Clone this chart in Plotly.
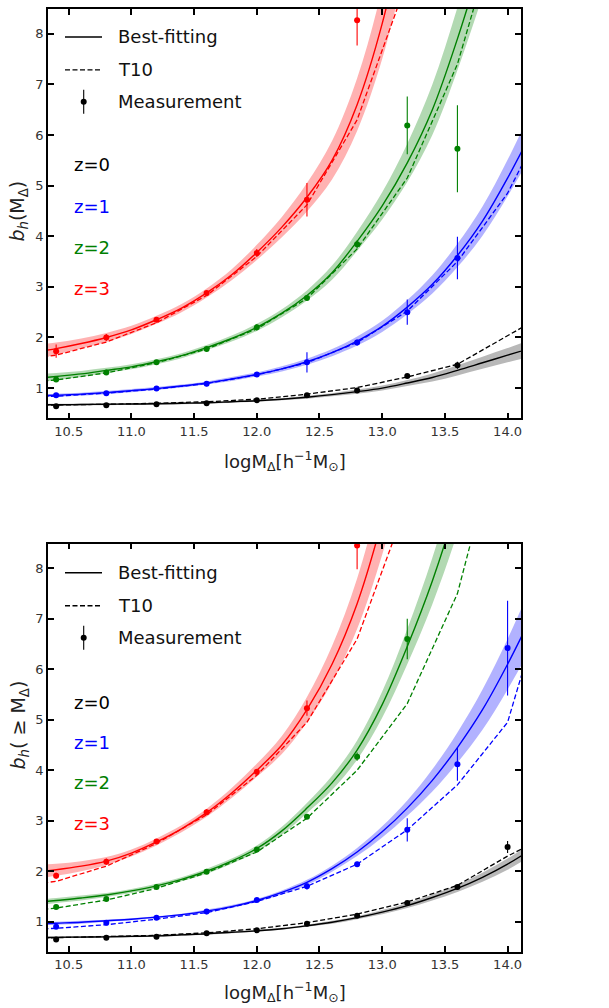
import plotly.graph_objects as go

# ---------------------------------------------------------------- data
# halo-mass bins of the measurements (log M)
X_BINS = [10.4, 10.8, 11.2, 11.6, 12.0, 12.4, 12.8, 13.2, 13.6, 14.0]
# mass grid of the best-fitting curves
X_FIT = [10.2, 10.4, 10.6, 10.8, 11.0, 11.2, 11.4, 11.6, 11.8, 12.0, 12.2,
         12.4, 12.6, 12.8, 13.0, 13.2, 13.4, 13.6, 13.8, 14.0, 14.2]
# mass grid of the T10 prediction
X_T10 = [10.0, 10.4, 10.8, 11.2, 11.6, 12.0, 12.4, 12.8, 13.2, 13.6, 14.0, 14.4]

X_TICKS = [10.5, 11.0, 11.5, 12.0, 12.5, 13.0, 13.5, 14.0]
X_TICK_TEXT = ["10.5", "11.0", "11.5", "12.0", "12.5", "13.0", "13.5", "14.0"]
Y_TICKS = [1, 2, 3, 4, 5, 6, 7, 8]

REDSHIFT_LABELS = ["z=0", "z=1", "z=2", "z=3"]
LINE_COLORS = ["#000000", "#0000ff", "#008000", "#ff0000"]
BAND_COLORS = ["rgba(0,0,0,0.28)", "rgba(0,0,255,0.30)",
               "rgba(0,128,0,0.30)", "rgba(255,0,0,0.30)"]

# ---- upper panel: b_h(M)
TOP_MEAS_Z0 = [0.64, 0.66, 0.68, 0.70, 0.76, 0.86, 0.95, 1.24, 1.45, None]
TOP_ERR_Z0 = [0.02, 0.02, 0.02, 0.02, 0.03, 0.03, 0.03, 0.04, 0.07, None]
TOP_MEAS_Z1 = [0.86, 0.90, 0.99, 1.085, 1.27, 1.51, 1.90, 2.50, 3.57, None]
TOP_ERR_Z1 = [0.03, 0.03, 0.03, 0.05, 0.05, 0.20, 0.06, 0.25, 0.42, None]
TOP_MEAS_Z2 = [1.17, 1.31, 1.51, 1.77, 2.20, 2.78, 3.84, 6.19, 5.73, None]
TOP_ERR_Z2 = [0.05, 0.05, 0.04, 0.05, 0.06, 0.05, 0.08, 0.57, 0.86, None]
TOP_MEAS_Z3 = [1.73, 2.00, 2.35, 2.88, 3.67, 4.72, 8.27, None, None, None]
TOP_ERR_Z3 = [0.13, 0.07, 0.05, 0.04, 0.08, 0.33, 0.50, None, None, None]

TOP_FIT_Z0 = [0.67, 0.67, 0.675, 0.68, 0.685, 0.69, 0.70, 0.71, 0.73, 0.75, 0.78,
              0.82, 0.87, 0.93, 1.00, 1.10, 1.21, 1.35, 1.50, 1.65, 1.80]
TOP_BAND_Z0 = [0.02, 0.02, 0.02, 0.02, 0.02, 0.02, 0.02, 0.02, 0.02, 0.02, 0.02,
               0.03, 0.03, 0.04, 0.05, 0.06, 0.08, 0.10, 0.12, 0.14, 0.17]
TOP_FIT_Z1 = [0.84, 0.86, 0.88, 0.91, 0.95, 0.99, 1.04, 1.10, 1.18, 1.27, 1.38,
              1.52, 1.70, 1.93, 2.22, 2.60, 3.05, 3.62, 4.30, 5.15, 6.10]
TOP_BAND_Z1 = [0.03, 0.03, 0.03, 0.03, 0.03, 0.03, 0.03, 0.03, 0.04, 0.04, 0.05,
               0.06, 0.07, 0.09, 0.11, 0.14, 0.18, 0.23, 0.29, 0.36, 0.45]
TOP_FIT_Z2 = [1.18, 1.23, 1.28, 1.35, 1.42, 1.52, 1.64, 1.80, 1.98, 2.20, 2.48,
              2.83, 3.28, 3.90, 4.60, 5.45, 6.50, 7.90, 9.50]
TOP_BAND_Z2 = [0.08, 0.07, 0.06, 0.05, 0.05, 0.05, 0.05, 0.05, 0.06, 0.07, 0.08,
               0.10, 0.14, 0.19, 0.27, 0.38, 0.50, 0.62, 0.76]
TOP_FIT_Z3 = [1.70, 1.78, 1.88, 2.00, 2.15, 2.35, 2.58, 2.88, 3.24, 3.68, 4.18,
              4.77, 5.50, 6.60, 8.20, 10.40]
TOP_BAND_Z3 = [0.14, 0.12, 0.10, 0.09, 0.08, 0.08, 0.08, 0.09, 0.11, 0.15, 0.20,
               0.28, 0.38, 0.52, 0.70, 0.92]

TOP_T10_Z0 = [0.65, 0.66, 0.68, 0.70, 0.73, 0.78, 0.88, 1.01, 1.22, 1.47, 2.05, 2.60]
TOP_T10_Z1 = [0.81, 0.84, 0.90, 0.98, 1.09, 1.26, 1.50, 1.90, 2.52, 3.50, 4.85, 6.80]
TOP_T10_Z2 = [1.08, 1.16, 1.30, 1.50, 1.77, 2.17, 2.77, 3.75, 5.15, 7.40, 10.80]
TOP_T10_Z3 = [1.52, 1.65, 1.91, 2.29, 2.83, 3.60, 4.62, 6.30, 9.05, 13.00]

# ---- lower panel: b_h(>=M)
BOT_MEAS_Z0 = [0.65, 0.68, 0.70, 0.77, 0.83, 0.96, 1.12, 1.37, 1.69, 2.48]
BOT_ERR_Z0 = [0.02, 0.02, 0.02, 0.02, 0.03, 0.03, 0.03, 0.03, 0.04, 0.12]
BOT_MEAS_Z1 = [0.90, 0.98, 1.08, 1.20, 1.43, 1.70, 2.14, 2.82, 4.12, 6.42]
BOT_ERR_Z1 = [0.04, 0.04, 0.04, 0.05, 0.04, 0.06, 0.05, 0.23, 0.33, 0.94]
BOT_MEAS_Z2 = [1.29, 1.45, 1.69, 1.99, 2.43, 3.08, 4.27, 6.60, None, None]
BOT_ERR_Z2 = [0.03, 0.03, 0.03, 0.03, 0.04, 0.04, 0.08, 0.40, None, None]
BOT_MEAS_Z3 = [1.91, 2.19, 2.59, 3.17, 3.97, 5.23, 8.45, None, None, None]
BOT_ERR_Z3 = [0.06, 0.06, 0.04, 0.06, 0.05, 0.15, 0.47, None, None, None]

BOT_FIT_Z0 = [0.68, 0.69, 0.695, 0.70, 0.71, 0.72, 0.74, 0.76, 0.79, 0.82, 0.86,
              0.92, 0.99, 1.08, 1.19, 1.32, 1.48, 1.66, 1.88, 2.14, 2.45]
BOT_BAND_Z0 = [0.02, 0.02, 0.02, 0.02, 0.02, 0.02, 0.02, 0.02, 0.02, 0.02, 0.02,
               0.02, 0.03, 0.03, 0.04, 0.05, 0.06, 0.07, 0.09, 0.11, 0.13]
BOT_FIT_Z1 = [0.95, 0.97, 0.99, 1.02, 1.05, 1.09, 1.14, 1.21, 1.30, 1.42, 1.58,
              1.78, 2.05, 2.38, 2.78, 3.25, 3.80, 4.45, 5.20, 6.10, 7.10]
BOT_BAND_Z1 = [0.03, 0.03, 0.03, 0.02, 0.02, 0.02, 0.02, 0.03, 0.03, 0.03, 0.04,
               0.05, 0.06, 0.08, 0.11, 0.15, 0.22, 0.30, 0.40, 0.50, 0.62]
BOT_FIT_Z2 = [1.37, 1.42, 1.47, 1.53, 1.61, 1.71, 1.84, 2.00, 2.20, 2.45, 2.80,
              3.25, 3.75, 4.40, 5.30, 6.45, 7.75, 9.30, 11.10]
BOT_BAND_Z2 = [0.06, 0.05, 0.05, 0.04, 0.04, 0.04, 0.04, 0.05, 0.05, 0.06, 0.08,
               0.10, 0.14, 0.19, 0.26, 0.35, 0.46, 0.60, 0.75]
BOT_FIT_Z3 = [1.98, 2.03, 2.10, 2.20, 2.36, 2.58, 2.84, 3.16, 3.55, 4.00, 4.50,
              5.20, 6.10, 7.30, 8.95, 11.00]
BOT_BAND_Z3 = [0.14, 0.12, 0.10, 0.08, 0.07, 0.07, 0.07, 0.08, 0.10, 0.13, 0.18,
               0.25, 0.36, 0.50, 0.68, 0.90]

BOT_T10_Z0 = [0.66, 0.68, 0.70, 0.73, 0.78, 0.86, 0.98, 1.15, 1.39, 1.72, 2.30, 2.80]
BOT_T10_Z1 = [0.83, 0.87, 0.94, 1.05, 1.18, 1.40, 1.70, 2.14, 2.82, 3.71, 4.95, 8.30]
BOT_T10_Z2 = [1.18, 1.27, 1.43, 1.66, 1.97, 2.38, 3.05, 4.00, 5.32, 7.50, 11.30]
BOT_T10_Z3 = [1.68, 1.80, 2.10, 2.55, 3.12, 3.90, 4.95, 6.60, 9.30, 13.00]

PANELS = [
    dict(xa="x", ya="y",
         meas=[TOP_MEAS_Z0, TOP_MEAS_Z1, TOP_MEAS_Z2, TOP_MEAS_Z3],
         err=[TOP_ERR_Z0, TOP_ERR_Z1, TOP_ERR_Z2, TOP_ERR_Z3],
         fit=[TOP_FIT_Z0, TOP_FIT_Z1, TOP_FIT_Z2, TOP_FIT_Z3],
         band=[TOP_BAND_Z0, TOP_BAND_Z1, TOP_BAND_Z2, TOP_BAND_Z3],
         t10=[TOP_T10_Z0, TOP_T10_Z1, TOP_T10_Z2, TOP_T10_Z3]),
    dict(xa="x2", ya="y2",
         meas=[BOT_MEAS_Z0, BOT_MEAS_Z1, BOT_MEAS_Z2, BOT_MEAS_Z3],
         err=[BOT_ERR_Z0, BOT_ERR_Z1, BOT_ERR_Z2, BOT_ERR_Z3],
         fit=[BOT_FIT_Z0, BOT_FIT_Z1, BOT_FIT_Z2, BOT_FIT_Z3],
         band=[BOT_BAND_Z0, BOT_BAND_Z1, BOT_BAND_Z2, BOT_BAND_Z3],
         t10=[BOT_T10_Z0, BOT_T10_Z1, BOT_T10_Z2, BOT_T10_Z3]),
]

# ---------------------------------------------------------------- layout geometry
W, H = 609, 1008
M_L, M_R, M_T, M_B = 48, 88, 7, 56
PW, PH = W - M_L - M_R, H - M_T - M_B
TOP_DOMAIN = [0.5658, 1.0]
BOT_DOMAIN = [0.0, 0.4331]
FONT = "DejaVu Sans"


def fx(px):
    return (px - M_L) / PW


def fy(py):
    return (H - M_B - py) / PH


fig = go.Figure()

for panel in PANELS:
    xa, ya = panel["xa"], panel["ya"]
    for i in range(4):
        color = LINE_COLORS[i]
        fit = panel["fit"][i]
        band = panel["band"][i]
        xs = X_FIT[:len(fit)]
        lo = [f - b for f, b in zip(fit, band)]
        hi = [f + b for f, b in zip(fit, band)]
        # uncertainty band of the best fit
        fig.add_trace(go.Scatter(x=xs, y=lo, mode="lines", xaxis=xa, yaxis=ya,
                                 line=dict(width=0, shape="spline", color=color),
                                 hoverinfo="skip", showlegend=False))
        fig.add_trace(go.Scatter(x=xs, y=hi, mode="lines", xaxis=xa, yaxis=ya,
                                 line=dict(width=0, shape="spline", color=color),
                                 fill="tonexty", fillcolor=BAND_COLORS[i],
                                 hoverinfo="skip", showlegend=False))
        # best-fitting relation
        fig.add_trace(go.Scatter(x=xs, y=fit, mode="lines", xaxis=xa, yaxis=ya,
                                 line=dict(width=1.4, shape="spline", color=color),
                                 showlegend=False))
        # T10 prediction
        t10 = panel["t10"][i]
        fig.add_trace(go.Scatter(x=X_T10[:len(t10)], y=t10, mode="lines",
                                 xaxis=xa, yaxis=ya,
                                 line=dict(width=1.3, dash="5px,2.5px", color=color),
                                 showlegend=False))
        # measurements
        fig.add_trace(go.Scatter(x=X_BINS, y=panel["meas"][i], mode="markers",
                                 xaxis=xa, yaxis=ya,
                                 marker=dict(size=6, color=color),
                                 error_y=dict(type="data", array=panel["err"][i],
                                              visible=True, width=0, thickness=1.1,
                                              color=color),
                                 showlegend=False))

axis_common = dict(showgrid=False, zeroline=False, showline=True, linecolor="black",
                   linewidth=1.6, mirror="allticks", ticks="inside", ticklen=6,
                   tickwidth=1.5, tickcolor="black",
                   tickfont=dict(family=FONT, size=13, color="#333333"))

fig.update_layout(
    width=W, height=H,
    margin=dict(l=M_L, r=M_R, t=M_T, b=M_B),
    paper_bgcolor="white", plot_bgcolor="white",
    showlegend=False,
    xaxis=dict(domain=[0, 1], anchor="y", range=[10.335, 14.107],
               tickmode="array", tickvals=X_TICKS, ticktext=X_TICK_TEXT, **axis_common),
    yaxis=dict(domain=TOP_DOMAIN, anchor="x", range=[0.4, 8.49],
               tickmode="array", tickvals=Y_TICKS, **axis_common),
    xaxis2=dict(domain=[0, 1], anchor="y2", range=[10.335, 14.107],
                tickmode="array", tickvals=X_TICKS, ticktext=X_TICK_TEXT, **axis_common),
    yaxis2=dict(domain=BOT_DOMAIN, anchor="x2", range=[0.4, 8.49],
                tickmode="array", tickvals=Y_TICKS, **axis_common),
)

annotations = []
shapes = []

X_TITLE = "logM<sub>Δ</sub>[h<sup>−1</sup>M<sub>⊙</sub>]"
Y_TITLES = ["<i>b<sub>h</sub></i>(M<sub>Δ</sub>)", "<i>b<sub>h</sub></i>( ≥ M<sub>Δ</sub>)"]

# axis titles and in-panel legends for both panels
for k, (x_title_py, y_title_py, legend_py, z_py) in enumerate([
        (460, 210, [35, 68, 100], [163, 205, 246, 287]),
        (992, 725, [572, 605, 637], [702, 742, 782, 823])]):
    annotations.append(dict(text=X_TITLE, xref="paper", yref="paper",
                            x=0.5, y=fy(x_title_py), xanchor="center", yanchor="middle",
                            showarrow=False,
                            font=dict(family=FONT, size=18, color="#222222")))
    annotations.append(dict(text=Y_TITLES[k], xref="paper", yref="paper",
                            x=fx(19), y=fy(y_title_py), xanchor="center", yanchor="middle",
                            textangle=-90, showarrow=False,
                            font=dict(family=FONT, size=19, color="#222222")))
    # legend: line samples
    shapes.append(dict(type="line", xref="paper", yref="paper",
                       x0=fx(65), x1=fx(102), y0=fy(legend_py[0]), y1=fy(legend_py[0]),
                       line=dict(color="black", width=1.4)))
    shapes.append(dict(type="line", xref="paper", yref="paper",
                       x0=fx(65), x1=fx(102), y0=fy(legend_py[1]), y1=fy(legend_py[1]),
                       line=dict(color="black", width=1.3, dash="5px,2.5px")))
    # legend: measurement symbol with error bar
    shapes.append(dict(type="line", xref="paper", yref="paper",
                       x0=fx(83.7), x1=fx(83.7), y0=fy(legend_py[2] - 12),
                       y1=fy(legend_py[2] + 12),
                       line=dict(color="black", width=1.1)))
    shapes.append(dict(type="circle", xref="paper", yref="paper",
                       x0=fx(80.7), x1=fx(86.7), y0=fy(legend_py[2] - 3),
                       y1=fy(legend_py[2] + 3),
                       fillcolor="black", line=dict(color="black", width=0)))
    for text, py in zip(["Best-fitting", "T10", "Measurement"], legend_py):
        annotations.append(dict(text=text, xref="paper", yref="paper",
                                x=fx(116), y=fy(py), xanchor="left", yanchor="middle",
                                showarrow=False,
                                font=dict(family=FONT, size=18, color="#111111")))
    for text, color, py in zip(REDSHIFT_LABELS, LINE_COLORS, z_py):
        annotations.append(dict(text=text, xref="paper", yref="paper",
                                x=fx(72), y=fy(py), xanchor="left", yanchor="middle",
                                showarrow=False,
                                font=dict(family=FONT, size=18, color=color)))

fig.update_layout(annotations=annotations, shapes=shapes)

fig.write_html("out.html")
